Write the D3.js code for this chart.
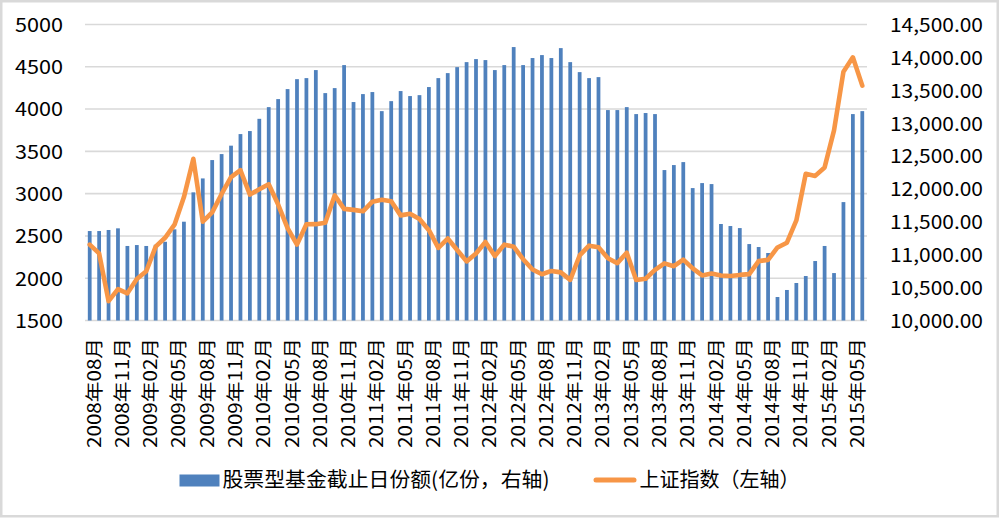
<!DOCTYPE html>
<html>
<head>
<meta charset="utf-8">
<script src="https://cdn.jsdelivr.net/npm/d3@7"></script>
<style>
  html, body { margin: 0; padding: 0; background: #fff; }
  svg { display: block; }
  text { font-family: "Noto Sans CJK SC", "Noto Sans", sans-serif; fill: #000; }
</style>
</head>
<body>
<svg id="chart" width="999" height="518"></svg>
<script>
// ---------- data ----------
const categories = [
  "2008年08月","2008年09月","2008年10月","2008年11月","2008年12月",
  "2009年01月","2009年02月","2009年03月","2009年04月","2009年05月","2009年06月","2009年07月","2009年08月","2009年09月","2009年10月","2009年11月","2009年12月",
  "2010年01月","2010年02月","2010年03月","2010年04月","2010年05月","2010年06月","2010年07月","2010年08月","2010年09月","2010年10月","2010年11月","2010年12月",
  "2011年01月","2011年02月","2011年03月","2011年04月","2011年05月","2011年06月","2011年07月","2011年08月","2011年09月","2011年10月","2011年11月","2011年12月",
  "2012年01月","2012年02月","2012年03月","2012年04月","2012年05月","2012年06月","2012年07月","2012年08月","2012年09月","2012年10月","2012年11月","2012年12月",
  "2013年01月","2013年02月","2013年03月","2013年04月","2013年05月","2013年06月","2013年07月","2013年08月","2013年09月","2013年10月","2013年11月","2013年12月",
  "2014年01月","2014年02月","2014年03月","2014年04月","2014年05月","2014年06月","2014年07月","2014年08月","2014年09月","2014年10月","2014年11月","2014年12月",
  "2015年01月","2015年02月","2015年03月","2015年04月","2015年05月","2015年06月"
];

// 股票型基金截止日份额 (亿份, right axis)
const fundShares = [
  11360,11360,11376,11401,11133,
  11147,11133,11151,11197,11386,11502,11948,12160,12439,12530,12658,12834,
  12880,13066,13244,13366,13518,13669,13685,13807,13457,13533,13883,13321,
  13442,13473,13183,13335,13488,13412,13426,13549,13685,13761,13852,13928,
  13974,13959,13807,13883,14157,13883,13990,14035,13990,14141,13928,13776,
  13685,13700,13199,13199,13244,13138,13154,13138,12287,12363,12408,12013,
  12089,12074,11467,11436,11405,11162,11117,11026,10357,10464,10570,10676,
  10904,11133,10721,11800,13138,13183
];

// 上证指数 (left axis)
const shIndex = [
  2397,2293,1729,1871,1821,
  1991,2082,2373,2478,2633,2959,3412,2668,2779,2996,3195,3277,
  2989,3051,3110,2871,2592,2398,2638,2639,2656,2979,2820,2808,
  2791,2905,2928,2911,2743,2762,2701,2568,2359,2469,2333,2199,
  2292,2428,2263,2397,2373,2225,2103,2047,2086,2069,1980,2269,
  2385,2366,2237,2178,2301,1979,1994,2098,2175,2142,2220,2116,
  2033,2056,2033,2026,2039,2048,2202,2217,2364,2420,2683,3235,
  3210,3310,3748,4442,4612,4277
];

const xTickLabels = [
  "2008年08月","2008年11月","2009年02月","2009年05月","2009年08月","2009年11月",
  "2010年02月","2010年05月","2010年08月","2010年11月","2011年02月","2011年05月",
  "2011年08月","2011年11月","2012年02月","2012年05月","2012年08月","2012年11月",
  "2013年02月","2013年05月","2013年08月","2013年11月","2014年02月","2014年05月",
  "2014年08月","2014年11月","2015年02月","2015年05月"
];
const leftTicks = [1500,2000,2500,3000,3500,4000,4500,5000];
const rightTicks = [10000,10500,11000,11500,12000,12500,13000,13500,14000,14500];

const barName = "股票型基金截止日份额(亿份，右轴)";
const lineName = "上证指数（左轴）";

// ---------- drawing ----------
const BLUE = "#4f81bd", ORANGE = "#f79646", GRID = "#d9d9d9";
const svg = d3.select("#chart");

const plot = { left: 85, right: 867, top: 24.5, bottom: 320.5 };

const x = d3.scaleBand().domain(categories).range([plot.left, plot.right])
  .paddingInner(0.6).paddingOuter(0.3);
const yL = d3.scaleLinear().domain([1500, 5000]).range([plot.bottom, plot.top]);
const yR = d3.scaleLinear().domain([10000, 14500]).range([plot.bottom, plot.top]);

// outer border
svg.append("rect").attr("x", 1.25).attr("y", 1.25).attr("width", 996.5).attr("height", 515)
  .attr("fill", "#fff").attr("stroke", GRID).attr("stroke-width", 2.5);

// gridlines
svg.append("g").selectAll("line").data(leftTicks).join("line")
  .attr("x1", plot.left).attr("x2", plot.right)
  .attr("y1", d => yL(d)).attr("y2", d => yL(d))
  .attr("stroke", GRID).attr("stroke-width", 1.6);

// bars (right axis)
svg.append("g").selectAll("rect").data(fundShares).join("rect")
  .attr("x", (d, i) => x(categories[i]))
  .attr("width", x.bandwidth())
  .attr("y", d => yR(d))
  .attr("height", d => yR(10000) - yR(d))
  .attr("fill", BLUE);

// line (left axis)
const line = d3.line()
  .x((d, i) => x(categories[i]) + x.bandwidth() / 2)
  .y(d => yL(d));
svg.append("path").datum(shIndex)
  .attr("d", line).attr("fill", "none")
  .attr("stroke", ORANGE).attr("stroke-width", 4.6)
  .attr("stroke-linejoin", "round").attr("stroke-linecap", "round");

// left axis
const gL = svg.append("g").attr("transform", "translate(63,0)")
  .call(d3.axisLeft(yL).tickValues(leftTicks).tickSize(0).tickPadding(0).tickFormat(d3.format("d")));
gL.select(".domain").remove();
gL.selectAll("text").attr("font-size", 19).attr("font-family", '"Noto Sans CJK SC", sans-serif')
  .attr("fill", "#000").attr("text-anchor", "start").attr("x", -48).attr("dy", "0.36em")
  .attr("textLength", 48).attr("lengthAdjust", "spacingAndGlyphs");

// right axis
const gR = svg.append("g").attr("transform", "translate(890,0)")
  .call(d3.axisRight(yR).tickValues(rightTicks).tickSize(0).tickPadding(0).tickFormat(d3.format(",.2f")));
gR.select(".domain").remove();
gR.selectAll("text").attr("font-size", 19).attr("font-family", '"Noto Sans CJK SC", sans-serif')
  .attr("fill", "#000").attr("text-anchor", "start").attr("x", 0).attr("dy", "0.36em")
  .attr("textLength", 93).attr("lengthAdjust", "spacingAndGlyphs");

// bottom axis
const gB = svg.append("g").attr("transform", `translate(0,${plot.bottom})`)
  .call(d3.axisBottom(x).tickValues(xTickLabels).tickSize(0).tickPadding(0));
gB.select(".domain").remove();
gB.selectAll(".tick").attr("transform", d => `translate(${x(d) + x.bandwidth() / 2},0)`);
gB.selectAll("text").attr("font-size", 18).attr("font-family", '"Noto Sans CJK SC", sans-serif')
  .attr("fill", "#000")
  .attr("transform", "translate(4.5,17.5) rotate(-90)")
  .attr("x", 0).attr("y", 0).attr("dy", "0.36em")
  .attr("text-anchor", "end")
  .attr("textLength", 110).attr("lengthAdjust", "spacingAndGlyphs");

// legend
const lg = svg.append("g");
lg.append("rect").attr("x", 179.5).attr("y", 474.5).attr("width", 40).attr("height", 12).attr("fill", BLUE);
lg.append("text").attr("x", 222.5).attr("y", 479.5).attr("dy", "0.36em")
  .attr("font-size", 20.5).attr("textLength", 327).attr("lengthAdjust", "spacingAndGlyphs").text(barName);
lg.append("line").attr("x1", 596).attr("x2", 634).attr("y1", 480).attr("y2", 480)
  .attr("stroke", ORANGE).attr("stroke-width", 5).attr("stroke-linecap", "round");
lg.append("text").attr("x", 639.5).attr("y", 479.5).attr("dy", "0.36em")
  .attr("font-size", 20.5).attr("textLength", 160).attr("lengthAdjust", "spacingAndGlyphs").text(lineName);
</script>
</body>
</html>
